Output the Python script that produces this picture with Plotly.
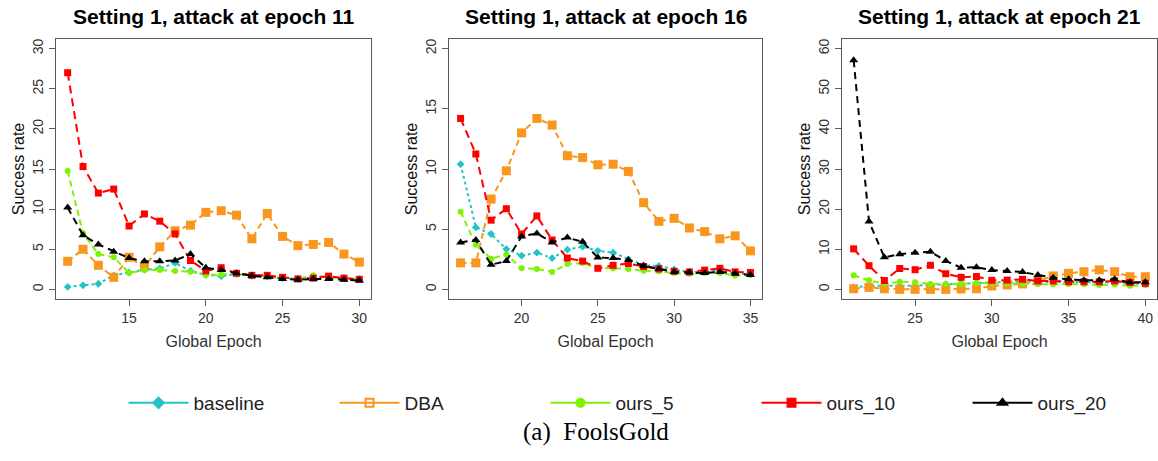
import plotly.graph_objects as go

# ---------------- data ----------------
epochs_p1 = list(range(11, 31))
epochs_p2 = list(range(16, 36))
epochs_p3 = list(range(21, 41))

titles = ["Setting 1, attack at epoch 11",
          "Setting 1, attack at epoch 16",
          "Setting 1, attack at epoch 21"]

series_names = ["baseline", "DBA", "ours_5", "ours_10", "ours_20"]

# panel 1 (attack at epoch 11)
baseline_p1 = [0.3, 0.5, 0.7, 1.75, 2.1, 2.45, 2.6, 3.3, 2.3, 1.8, 1.65, 1.9, 1.7, 1.6, 1.4, 1.3, 1.5, 1.5, 1.4, 1.3]
dba_p1 = [3.5, 5.0, 3.0, 1.5, 4.0, 2.8, 5.3, 7.3, 8.0, 9.6, 9.8, 9.25, 6.3, 9.45, 6.6, 5.45, 5.6, 5.85, 4.4, 3.4]
ours5_p1 = [14.75, 7.0, 4.4, 4.0, 2.05, 2.4, 2.4, 2.3, 2.2, 1.8, 1.85, 2.0, 1.75, 1.6, 1.4, 1.3, 1.75, 1.5, 1.4, 1.3]
ours10_p1 = [27.0, 15.3, 12.0, 12.5, 7.9, 9.4, 8.5, 6.9, 3.6, 2.3, 2.7, 2.0, 1.75, 1.75, 1.5, 1.3, 1.4, 1.65, 1.4, 1.25]
ours20_p1 = [10.2, 6.75, 5.6, 4.7, 3.9, 3.5, 3.5, 3.6, 4.4, 2.7, 2.4, 2.0, 1.7, 1.5, 1.3, 1.2, 1.3, 1.3, 1.2, 1.1]

# panel 2 (attack at epoch 16)
baseline_p2 = [10.4, 5.15, 4.6, 3.35, 2.8, 3.05, 2.6, 3.3, 3.55, 3.2, 3.05, 2.5, 2.0, 1.95, 1.65, 1.45, 1.45, 1.6, 1.3, 1.3]
dba_p2 = [2.2, 2.2, 7.5, 9.85, 13.0, 14.2, 13.65, 11.1, 10.95, 10.35, 10.4, 9.8, 7.2, 5.65, 5.9, 5.1, 4.8, 4.2, 4.45, 3.2]
ours5_p2 = [6.45, 3.7, 2.55, 2.9, 1.75, 1.7, 1.45, 2.1, 2.2, 1.75, 1.75, 1.7, 1.55, 1.5, 1.35, 1.3, 1.35, 1.35, 1.15, 1.2]
ours10_p2 = [14.2, 11.25, 5.75, 6.7, 4.6, 6.1, 4.1, 2.6, 2.35, 1.75, 2.0, 2.15, 1.9, 1.7, 1.5, 1.45, 1.6, 1.75, 1.45, 1.4]
ours20_p2 = [3.9, 4.1, 2.05, 2.35, 4.4, 4.65, 3.9, 4.3, 3.95, 2.65, 2.6, 2.45, 1.95, 1.7, 1.45, 1.4, 1.35, 1.45, 1.3, 1.2]

# panel 3 (attack at epoch 21)
baseline_p3 = [0.5, 0.85, 0.9, 0.9, 0.9, 1.1, 1.3, 1.5, 1.65, 1.75, 1.9, 1.9, 1.9, 1.9, 1.8, 1.8, 1.7, 1.8, 1.5, 1.4]
dba_p3 = [0.15, 0.5, 0.15, 0.0, 0.0, 0.0, 0.0, 0.1, 0.15, 0.85, 1.1, 1.35, 2.1, 3.35, 4.0, 4.4, 4.85, 4.4, 3.15, 3.15]
ours5_p3 = [3.5, 2.25, 1.4, 1.9, 1.8, 1.35, 1.35, 1.35, 1.6, 1.5, 1.5, 1.35, 1.35, 1.25, 1.35, 1.25, 1.1, 1.2, 0.9, 1.0]
ours10_p3 = [10.1, 5.9, 2.2, 5.2, 4.9, 6.0, 3.9, 3.0, 3.2, 2.25, 2.3, 2.5, 2.1, 2.1, 1.9, 1.9, 1.9, 2.1, 1.7, 1.5]
ours20_p3 = [57.1, 16.9, 8.0, 8.75, 9.15, 9.4, 7.1, 5.4, 5.5, 4.8, 4.6, 4.3, 3.6, 2.9, 2.5, 2.3, 2.3, 2.5, 1.8, 1.75]

x_ranges = [[10.24, 30.76], [15.24, 35.76], [20.24, 40.76]]
y_ranges = [[-1.2, 31.2], [-0.8, 20.8], [-2.4, 62.4]]
y_dticks = [5, 5, 10]

panels = [
    (epochs_p1, [baseline_p1, dba_p1, ours5_p1, ours10_p1, ours20_p1]),
    (epochs_p2, [baseline_p2, dba_p2, ours5_p2, ours10_p2, ours20_p2]),
    (epochs_p3, [baseline_p3, dba_p3, ours5_p3, ours10_p3, ours20_p3]),
]

# ---------------- styles ----------------
W, H = 1158, 461
colors = ["#22C4C6", "#F8961E", "#7CF400", "#FF0000", "#000000"]
dashes = ["3px,3px", "6px,4px", "6px,4px", "8px,5px", "7px,5px"]
symbols = ["diamond", "square", "circle", "square", "triangle-up"]
legend_symbols = ["diamond", "square-open", "circle", "square", "triangle-up"]
msizes = [6, 9, 6, 7, 8]

px_left = [56, 449, 842]
px_right = [371, 762, 1157]
py_top, py_bottom = 39, 299
ydom = [(H - py_bottom) / H, (H - py_top) / H]

fig = go.Figure()
font_main = "Liberation Sans, Arial, sans-serif"

for i, (xs, ys_list) in enumerate(panels):
    xa = "x" if i == 0 else f"x{i+1}"
    ya = "y" if i == 0 else f"y{i+1}"
    for k, ys in enumerate(ys_list):
        fig.add_trace(go.Scatter(
            x=xs, y=ys, xaxis=xa, yaxis=ya,
            mode="lines+markers",
            name=series_names[k],
            showlegend=False,
            line=dict(color=colors[k], width=2, dash=dashes[k]),
            marker=dict(symbol=symbols[k], size=msizes[k], color=colors[k],
                        line=dict(width=0)),
            cliponaxis=False,
        ))
    axis_common = dict(
        showline=True, mirror=True, linecolor="#5a5a5a", linewidth=1.3,
        ticks="outside", ticklen=6, tickcolor="#5a5a5a", tickwidth=1,
        showgrid=False, zeroline=False,
        tickfont=dict(family=font_main, size=14, color="#333333"),
    )
    xkey = "xaxis" if i == 0 else f"xaxis{i+1}"
    ykey = "yaxis" if i == 0 else f"yaxis{i+1}"
    fig.update_layout(**{
        xkey: dict(axis_common, domain=[px_left[i] / W, px_right[i] / W],
                   range=x_ranges[i], tick0=0, dtick=5, anchor=ya,
                   title=dict(text="Global Epoch", standoff=10,
                              font=dict(family=font_main, size=16, color="#333333"))),
        ykey: dict(axis_common, domain=ydom, range=y_ranges[i], tick0=0,
                   dtick=y_dticks[i], anchor=xa, tickangle=-90,
                   title=dict(text="Success rate", standoff=1,
                              font=dict(family=font_main, size=16, color="#111111"))),
    })
    fig.add_annotation(
        x=(px_left[i] + px_right[i]) / 2 / W, y=(H - 16) / H,
        xref="paper", yref="paper", text=f"<b>{titles[i]}</b>",
        showarrow=False, xanchor="center", yanchor="middle",
        font=dict(family=font_main, size=21, color="black"),
    )

# legend entries (solid lines, as in the reference legend)
for k, name in enumerate(series_names):
    fig.add_trace(go.Scatter(
        x=[None], y=[None], mode="lines+markers", name=name,
        line=dict(color=colors[k], width=2),
        marker=dict(symbol=legend_symbols[k], size=8, color=colors[k],
                    line=dict(width=2, color=colors[k])),
        showlegend=True,
    ))

fig.add_annotation(
    x=596 / W, y=(H - 432) / H, xref="paper", yref="paper",
    text="(a)  FoolsGold", showarrow=False, xanchor="center", yanchor="middle",
    font=dict(family="Liberation Serif, Times New Roman, serif", size=25, color="black"),
)

fig.update_layout(
    width=W, height=H,
    margin=dict(l=0, r=0, t=0, b=0, autoexpand=False),
    paper_bgcolor="white", plot_bgcolor="white",
    showlegend=True,
    legend=dict(
        orientation="h", x=(579 + 72) / W, y=(H - 403) / H, xanchor="center", yanchor="middle",
        font=dict(family=font_main, size=19, color="#222222"),
        entrywidth=136, entrywidthmode="pixels", itemwidth=60,
        bgcolor="rgba(0,0,0,0)", tracegroupgap=0,
    ),
)

fig.write_html("out.html")
